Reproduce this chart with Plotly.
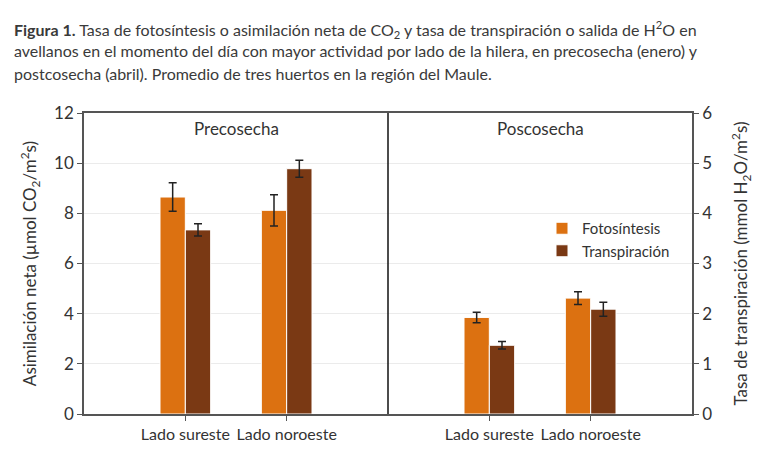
import plotly.graph_objects as go

# x slots: 1,2 = Precosecha ; 4,5 = Poscosecha
positions = [1, 2, 4, 5]
sides = ["Lado sureste", "Lado noroeste", "Lado sureste", "Lado noroeste"]

fotosintesis = [8.65, 8.12, 3.85, 4.62]        # umol CO2/m2s (left axis)
fotosintesis_err = [0.57, 0.62, 0.21, 0.25]
transpiracion = [3.67, 4.89, 1.37, 2.09]        # mmol H2O/m2s (right axis)
transpiracion_err = [0.12, 0.17, 0.075, 0.14]

ORANGE = "#DC7111"
BROWN = "#7A3914"
FONT = "Lato"

# page body has an 8px margin, plot area ends up at x 84..692, y 113..414
def px_x(px):
    return (px - 84) / 608

def px_y(py):
    return (414 - py) / 301

fig = go.Figure()
fig.add_trace(go.Bar(
    x=positions, y=fotosintesis, name="Fotosíntesis",
    width=0.25, offset=-0.25,
    marker=dict(color=ORANGE, line=dict(color="white", width=1)),
    error_y=dict(type="data", array=fotosintesis_err, color="#222", thickness=1.5, width=4),
))
fig.add_trace(go.Bar(
    x=positions, y=transpiracion, name="Transpiración", yaxis="y2",
    width=0.25, offset=0,
    marker=dict(color=BROWN, line=dict(color="white", width=1)),
    error_y=dict(type="data", array=transpiracion_err, color="#222", thickness=1.5, width=4),
))

# divider between the two periods
fig.add_shape(type="line", x0=3, x1=3, xref="x", y0=0, y1=1, yref="paper",
              line=dict(color="#111", width=1.5))

fig.add_annotation(x=1.5, y=11.4, xref="x", yref="y", text="Precosecha", showarrow=False,
                   font=dict(size=17, color="#333", family=FONT))
fig.add_annotation(x=4.5, y=11.4, xref="x", yref="y", text="Poscosecha", showarrow=False,
                   font=dict(size=17, color="#333", family=FONT))

title_lines = [
    "<b>Figura 1.</b> Tasa de fotosíntesis o asimilación neta de CO<sub>2</sub> y tasa de transpiración o salida de H<sup>2</sup>O en",
    "avellanos en el momento del día con mayor actividad por lado de la hilera, en precosecha (enero) y",
    "postcosecha (abril). Promedio de tres huertos en la región del Maule.",
]
title_bottoms = [43, 62.5, 85]
for line, bottom in zip(title_lines, title_bottoms):
    fig.add_annotation(x=px_x(12), y=px_y(bottom),
                       xref="paper", yref="paper", xanchor="left", yanchor="bottom",
                       text=line, showarrow=False, align="left",
                       font=dict(size=16, color="#3a3a3a", family=FONT))

fig.update_layout(
    width=768, height=458,
    margin=dict(l=76, r=84, t=105, b=52),
    paper_bgcolor="white", plot_bgcolor="white",
    barmode="overlay",
    font=dict(family=FONT, size=16, color="#333"),
    showlegend=True,
    legend=dict(x=px_x(542), y=px_y(212), xanchor="left", yanchor="top",
                bgcolor="rgba(0,0,0,0)", font=dict(size=15, color="#333"),
                tracegroupgap=2),
    xaxis=dict(range=[0, 6], tickmode="array", tickvals=positions, ticktext=sides,
               tickangle=0, automargin=False, tickfont=dict(size=16),
               showgrid=False, showline=True, mirror=True, linecolor="#555", linewidth=1.5,
               ticks="outside", ticklen=5, tickcolor="#555", zeroline=False),
    yaxis=dict(range=[0, 12], dtick=2, showline=True, linecolor="#555", linewidth=1.5,
               ticks="outside", ticklen=5, tickcolor="#555", automargin=False,
               gridcolor="#ebebeb", zeroline=False, tickfont=dict(size=17),
               title=dict(text="Asimilación neta (µmol CO<sub>2</sub>/m<sup>2</sup>s)",
                          font=dict(size=17), standoff=13)),
    yaxis2=dict(range=[0, 6], dtick=1, overlaying="y", side="right",
                showline=True, linecolor="#555", linewidth=1.5, automargin=False,
                ticks="outside", ticklen=5, tickcolor="#555", tickfont=dict(size=17),
                showgrid=False, zeroline=False,
                title=dict(text="Tasa de transpiración (mmol H<sub>2</sub>O/m<sup>2</sup>s)",
                           font=dict(size=17), standoff=24)),
)

fig.write_html("out.html")
